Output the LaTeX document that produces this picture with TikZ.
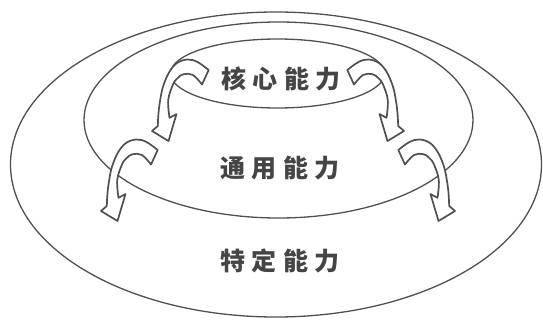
\documentclass[tikz,border=0pt]{standalone}
\usepackage{fontspec}
\newfontfamily\cjk{Noto Sans CJK SC}
\definecolor{ink}{HTML}{505050}
\definecolor{txt}{HTML}{454545}
\tikzset{
  ring/.style={draw=ink, line width=1.3pt},
  lbl/.style={font=\cjk\bfseries\fontsize{25}{25}\selectfont, text=txt, inner sep=0pt},
  curl/.style={draw=ink, line width=1.7pt, fill=white, line join=round},
  curlarrow/.pic={
    \path[curl]
      plot[smooth, tension=0.6] coordinates {(3.2,-7) (-8,-15) (-18,-17.5) (-28.5,-14) (-36.5,-4.5) (-42.5,9.7) (-45.3,23) (-47,36) (-47.7,49)}
      -- (-53.5,54) -- (-37,64) -- (-29,37) -- (-36,40.8)
      -- plot[smooth, tension=0.6] coordinates {(-36,40.8) (-37.3,23) (-32.5,7.5) (-28,1.2) (-22,-2.8) (-12.5,-2) (-3.5,7.5)}
      -- cycle;
  }
}
\begin{document}
\begin{tikzpicture}[x=1pt, y=-1pt]
  \useasboundingbox (0,0) rectangle (543,324);
  \fill[white] (0,0) rectangle (543,324);
  % rings
  \draw[ring] (276,164.5) ellipse [x radius=265.5, y radius=152.5];
  \draw[ring] (278.5,120) ellipse [x radius=194.5, y radius=98];
  \draw[ring] (277.5,73.5) ellipse [x radius=107, y radius=34.5];
  % curved arrows
  \pic at (205.5,77) {curlarrow};
  \pic[xscale=-1] at (350.5,77) {curlarrow};
  \pic at (154.5,157) {curlarrow};
  \pic[xscale=-1] at (401.5,157) {curlarrow};
  % labels
  \node[lbl] (core) at (281,79) {核\kern6.5pt 心\kern6.5pt 能\kern6.5pt 力};
  \node[lbl] (general) at (280,168.5) {通\kern6.5pt 用\kern6.5pt 能\kern6.5pt 力};
  \node[lbl] (specific) at (280,261) {特\kern6.5pt 定\kern6.5pt 能\kern6.5pt 力};
\end{tikzpicture}
\end{document}
